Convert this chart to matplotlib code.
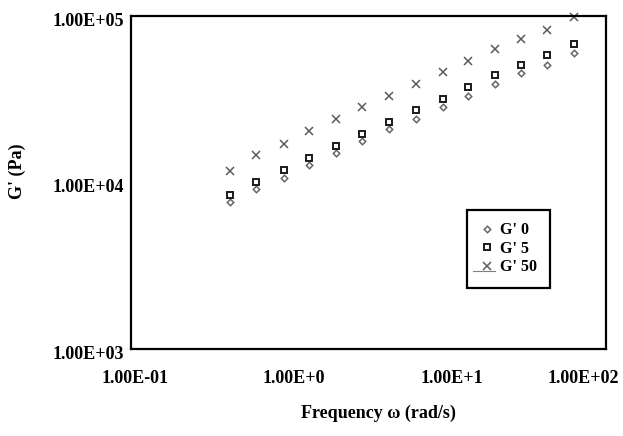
import matplotlib
matplotlib.use("Agg")
import matplotlib.pyplot as plt
from matplotlib.transforms import ScaledTranslation
from matplotlib.lines import Line2D

plt.rcParams['font.family'] = ['Liberation Serif', 'DejaVu Serif']
plt.rcParams['font.weight'] = 'bold'

freq = [0.42, 0.62, 0.92, 1.34, 1.97, 2.89, 4.27, 6.28, 9.3, 13.5, 19.9, 29.0, 42.6, 62.8]
g0 = [7670, 9100, 10690, 12740, 15100, 17670, 20870, 24060, 28260, 33200, 39100, 45300, 51000, 59700]
g5 = [8410, 10110, 11890, 13960, 16630, 19640, 23080, 27230, 31840, 37600, 44000, 50800, 58700, 67600]
g50 = [11770, 14560, 17030, 20370, 24050, 28270, 33100, 38900, 45900, 53900, 63400, 72800, 82400, 99000]

x_ticks = [0.1, 1, 10, 100]
x_ticklabels = ['1.00E-01', '1.00E+0', '1.00E+1', '1.00E+02']
y_ticks = [1e3, 1e4, 1e5]
y_ticklabels = ['1.00E+03', '1.00E+04', '1.00E+05']

W, H = 623, 436
fig = plt.figure(figsize=(W/100, H/100), dpi=100)
ax = fig.add_axes([131/W, 1-349/H, (606-131)/W, (349-16)/H])

ax.plot(freq, g0, linestyle='none', marker='D', markersize=3.3, markerfacecolor='white',
        markeredgecolor='#666666', markeredgewidth=1.1, label="G' 0", clip_on=False)
ax.plot(freq, g5, linestyle='none', marker='s', markersize=4.1, markerfacecolor='white',
        markeredgecolor='#1a1a1a', markeredgewidth=1.4, label="G' 5", clip_on=False)
ax.plot(freq, g50, linestyle='none', marker='x', markersize=5.2,
        markeredgecolor='#5a5a5a', markeredgewidth=1.1, label="G' 50", clip_on=False)

ax.set_xscale('log')
ax.set_yscale('log')
ax.set_xlim(0.1, 100)
ax.set_ylim(1e3, 1e5)
ax.set_xticks(x_ticks)
ax.set_xticklabels(x_ticklabels)
ax.set_yticks(y_ticks)
ax.set_yticklabels(y_ticklabels)
ax.minorticks_off()
ax.tick_params(axis='both', length=0, labelsize=13)
ax.tick_params(axis='x', pad=15)
ax.tick_params(axis='y', pad=5)
for s in ax.spines.values():
    s.set_linewidth(1.6)
    s.set_color('black')

for i, lab in enumerate(ax.get_xticklabels()):
    dx = 4/100 if i < 3 else -23/100
    lab.set_transform(lab.get_transform() + ScaledTranslation(dx, 0, fig.dpi_scale_trans))
for lab in ax.get_yticklabels():
    lab.set_transform(lab.get_transform() + ScaledTranslation(0, -3/100, fig.dpi_scale_trans))

fig.text(378/W, 1-413/H, 'Frequency ω (rad/s)', ha='center', va='center', fontsize=13, fontweight='bold')
fig.text(17/W, 1-171/H, "G' (Pa)", ha='center', va='center', rotation=90, fontsize=13, fontweight='bold')

leg = ax.legend(loc='upper left', bbox_to_anchor=(467/W, 1-210/H), bbox_transform=fig.transFigure,
                fancybox=False, framealpha=1, edgecolor='black',
                handlelength=1.0, handletextpad=0.3, labelspacing=0.15, borderpad=0.78,
                borderaxespad=0, prop={'weight': 'bold', 'size': 11.5})
leg.get_frame().set_linewidth(1.6)

# thin gray stroke under the last legend marker, as in the original export
fig.add_artist(Line2D([473/W, 495/W], [1-271/H, 1-271/H], color='#808080', linewidth=0.8))

fig.savefig('out.png', dpi=100)
